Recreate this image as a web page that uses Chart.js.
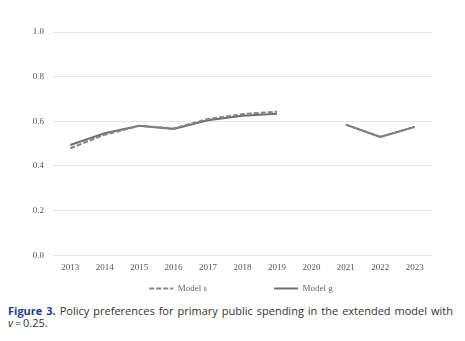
<!DOCTYPE html>
<html>
<head>
<meta charset="utf-8">
<script src="https://cdn.jsdelivr.net/npm/chart.js@4/dist/chart.umd.min.js"></script>
<style>
  html, body { margin: 0; padding: 0; background: #fff; }
  #wrap { width: 465px; height: 303px; position: relative; }
  #caption {
    position: absolute; left: 8px; top: 305px; width: 445px;
    font-family: "Open Sans", sans-serif; font-size: 11px; line-height: 12px;
    color: #333; text-align: justify;
  }
  #caption b { color: #1f3c88; }
  #caption span { white-space: nowrap; }
</style>
</head>
<body>
<div id="wrap"><canvas id="chart"></canvas></div>
<div id="caption"><b>Figure 3.</b> Policy preferences for primary public spending in the extended model with <span><i>v</i>&thinsp;=&thinsp;0.25.</span></div>
<script>
const years = ['2013', '2014', '2015', '2016', '2017', '2018', '2019', '2020', '2021', '2022', '2023'];
const modelS = [0.479, 0.540, 0.580, 0.568, 0.610, 0.632, 0.643, null, 0.585, 0.530, 0.575];
const modelG = [0.494, 0.546, 0.580, 0.565, 0.605, 0.625, 0.634, null, 0.585, 0.530, 0.575];
const seriesNames = ['Model s', 'Model g'];

const serif = { family: '"Liberation Serif", "Times New Roman", serif', size: 9 };
const dashS = [5, 2];

new Chart(document.getElementById('chart'), {
  type: 'line',
  data: {
    labels: years,
    datasets: [
      { label: seriesNames[0], data: modelS, borderColor: '#858585', borderWidth: 2, borderDash: dashS, pointRadius: 0, spanGaps: false, tension: 0 },
      { label: seriesNames[1], data: modelG, borderColor: '#6f6f6f', borderWidth: 2, pointRadius: 0, spanGaps: false, tension: 0 }
    ]
  },
  options: {
    responsive: true,
    maintainAspectRatio: false,
    animation: false,
    layout: { padding: { top: 32, right: 0, left: 17, bottom: 0 } },
    scales: {
      x: {
        offset: true,
        grid: { display: false, drawTicks: false },
        border: { display: false },
        ticks: { font: serif, color: '#555', padding: 7, maxRotation: 0 }
      },
      y: {
        min: 0, max: 1,
        afterFit: (scale) => { scale.width = 36; },
        grid: { color: '#e6e6e6', drawTicks: false },
        border: { display: false },
        ticks: { stepSize: 0.2, font: serif, color: '#555', padding: 9, callback: v => v.toFixed(1) }
      },
      right: {
        position: 'right',
        min: 0, max: 1,
        afterFit: (scale) => { scale.width = 33; },
        grid: { display: false, drawTicks: false },
        border: { display: false },
        ticks: { display: false }
      }
    },
    plugins: {
      legend: {
        position: 'bottom',
        labels: {
          usePointStyle: true, pointStyle: 'line', pointStyleWidth: 24,
          boxHeight: 9, font: serif, color: '#666', padding: 4,
          generateLabels: (chart) => chart.data.datasets.map((ds, i) => ({
            text: i === 0 ? ds.label + '\u2003'.repeat(7) : ds.label,
            strokeStyle: ds.borderColor,
            fillStyle: ds.borderColor,
            lineWidth: 2,
            lineDash: ds.borderDash || [],
            pointStyle: 'line',
            fontColor: '#666',
            datasetIndex: i
          }))
        }
      },
      tooltip: { enabled: false }
    }
  }
});
</script>
</body>
</html>
